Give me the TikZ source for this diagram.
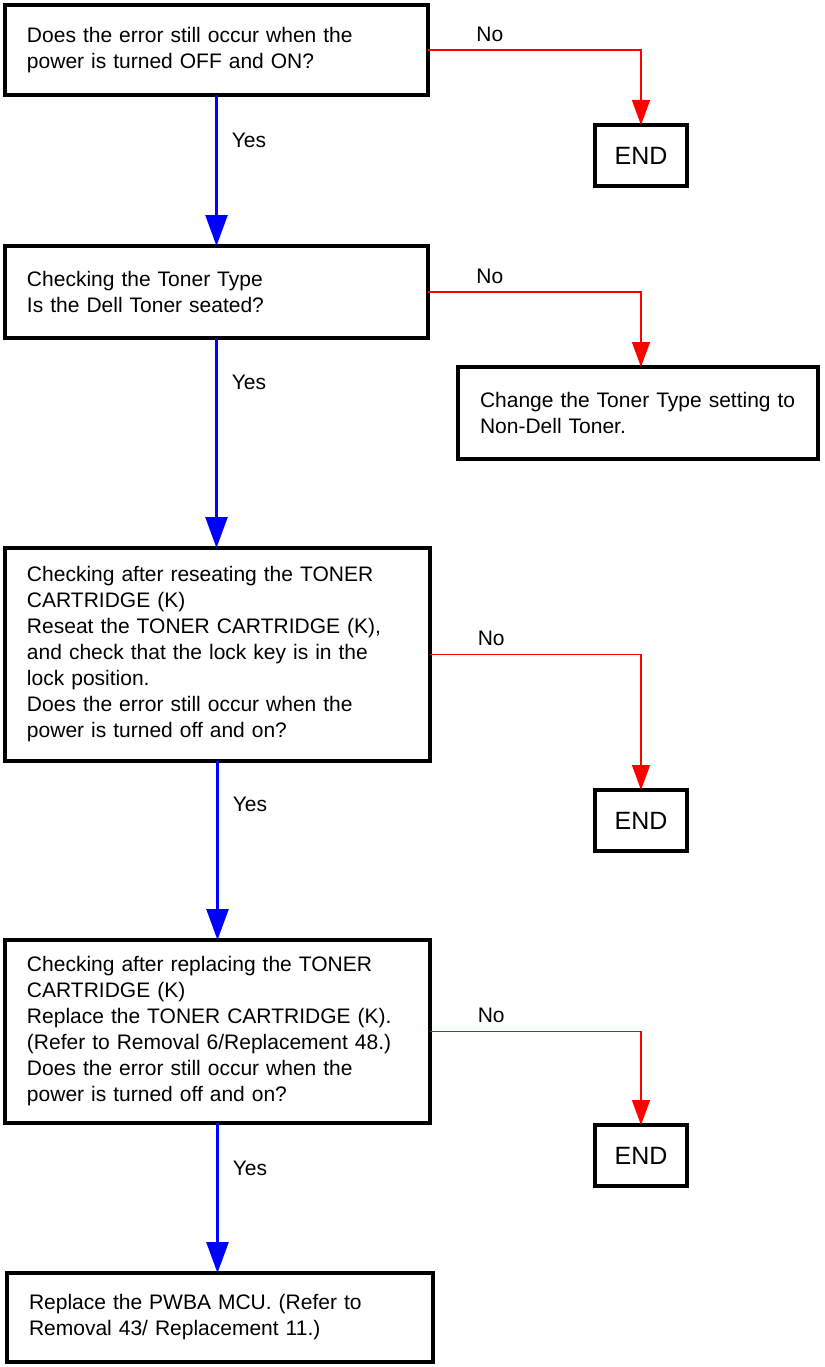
\documentclass[tikz,border=0pt]{standalone}
\usepackage{fontspec}
\setmainfont{Liberation Sans}
\usetikzlibrary{positioning, arrows.meta}
\tikzset{
  % question and action boxes
  stepbox/.style={
    draw, line width=4pt, outer sep=0pt, anchor=north west,
    align=left, inner xsep=22pt, inner ysep=0pt,
    font=\fontsize{21}{26}\selectfont
  },
  % terminal boxes
  endbox/.style={
    draw, line width=4pt, outer sep=0pt, anchor=north west,
    minimum width=92pt, minimum height=61pt, inner sep=0pt,
    font=\fontsize{25}{30}\selectfont
  },
  % Yes / No connectors
  yesarrow/.style={
    blue, line width=2.6pt, -{Triangle[width=22pt, length=31pt]}
  },
  noarrow/.style={
    red, line width=1.3pt, -{Triangle[width=18pt, length=25pt]}
  },
  lbl/.style={
    black, inner sep=0pt, font=\fontsize{21}{24}\selectfont
  },
}

\begin{document}
\begin{tikzpicture}[x=1pt, y=-1pt]

  \useasboundingbox (0,0) rectangle (824,1367);

  %% -- Boxes --
  \node[stepbox, text width=379pt, minimum height=90pt] (q1) at (5,5)
    {Does the error still occur when the\\power is turned OFF and ON?};
  \node[endbox] (end1) at (595,125) {END};

  \node[stepbox, text width=379pt, minimum height=92pt] (q2) at (5,246)
    {Checking the Toner Type\\Is the Dell Toner seated?};
  \node[stepbox, text width=316pt, minimum height=92pt] (chg) at (458,367)
    {Change the Toner Type setting to\\Non-Dell Toner.};

  \node[stepbox, text width=381pt, minimum height=213pt] (q3) at (5,548)
    {Checking after reseating the TONER\\CARTRIDGE (K)\\Reseat the TONER CARTRIDGE (K),\\and check that the lock key is in the\\lock position.\\Does the error still occur when the\\power is turned off and on?};
  \node[endbox] (end2) at (595,790) {END};

  \node[stepbox, text width=381pt, minimum height=183pt] (q4) at (5,940)
    {Checking after replacing the TONER\\CARTRIDGE (K)\\Replace the TONER CARTRIDGE (K).\\(Refer to Removal 6/Replacement 48.)\\Does the error still occur when the\\power is turned off and on?};
  \node[endbox] (end3) at (595,1125) {END};

  \node[stepbox, text width=382pt, minimum height=89pt] (act) at (7,1273)
    {Replace the PWBA MCU. (Refer to\\Removal 43/ Replacement 11.)};

  %% -- Yes --
  \draw[yesarrow] (q1.south) -- node[lbl, right=14pt, pos=0.30] {Yes} (q1.south |- q2.north);
  \draw[yesarrow] (q2.south) -- node[lbl, right=14pt, pos=0.21] {Yes} (q2.south |- q3.north);
  \draw[yesarrow] (q3.south) -- node[lbl, right=14pt, pos=0.24] {Yes} (q3.south |- q4.north);
  \draw[yesarrow] (q4.south) -- node[lbl, right=14pt, pos=0.30] {Yes} (q4.south |- act.north);

  %% -- No --
  \draw[noarrow] (q1.east) -| node[lbl, above=8pt, pos=0.145] {No} (end1.north);
  \draw[noarrow] (q2.east) -| node[lbl, above=8pt, pos=0.145] {No} (chg.north -| end1.north);
  \draw[noarrow] (q3.east) -| node[lbl, above=8pt, pos=0.145] {No} (end2.north);
  \draw[noarrow] (q4.east) -| node[lbl, above=8pt, pos=0.145] {No} (end3.north);

\end{tikzpicture}
\end{document}
